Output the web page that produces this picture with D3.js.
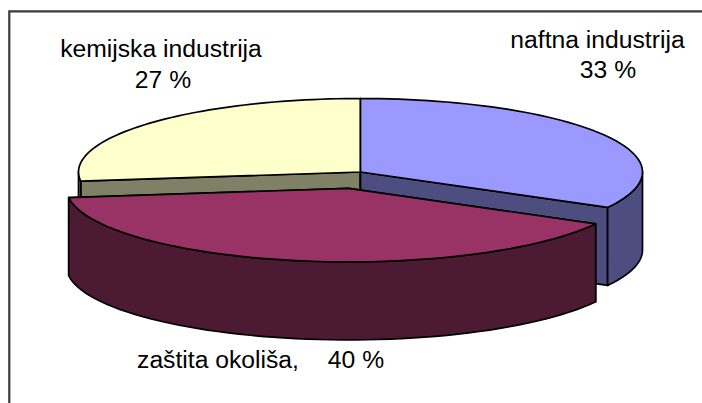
<!DOCTYPE html>
<html><head><meta charset="utf-8">
<script src="https://cdn.jsdelivr.net/npm/d3@7/dist/d3.min.js"></script>
<style>html,body{margin:0;padding:0;background:#fff}svg{display:block}text{font-family:"Liberation Sans",Arial,sans-serif;font-size:24.7px;fill:#000}</style>
</head><body><svg id="c" width="702" height="403"></svg>
<script>
const categories = ["naftna industrija", "zaštita okoliša", "kemijska industrija"];
const values = [33, 40, 27];
const topColors = ["#9999FF", "#993366", "#FFFFCC"];
const sideColors = ["#4D4D80", "#4D1A33", "#808066"];
const exploded = [false, true, false];

const cx = 360.5, cy = 172, rx = 282, ry = 73.5, depth = 78, explode = 0.227;
const svg = d3.select("#c");
svg.append("path").attr("d", "M9.3 403V11.3H702").attr("fill", "none").attr("stroke", "#3a3a3a").attr("stroke-width", 2.2);

const xUnit = d3.scaleLinear().domain([-1, 1]).range([-rx, rx]);
const yUnit = d3.scaleLinear().domain([-1, 1]).range([-ry, ry]);
const arcs = d3.pie().sort(null).value(d => d)(values).map((a, i) => {
  const mid = (a.startAngle + a.endAngle) / 2, e = exploded[i] ? explode : 0;
  return {...a, i, ox: cx + xUnit(Math.sin(mid) * e), oy: cy + yUnit(-Math.cos(mid) * e)};
});
const pt = (a, t, dy = 0) => [a.ox + xUnit(Math.sin(t)), a.oy + yUnit(-Math.cos(t)) + dy];
const samples = (a, t0, t1, dy) => d3.range(61).map(k => pt(a, t0 + (t1 - t0) * k / 60, dy));
const line = d3.line();
const draw = (pts, fill) => svg.append("path").attr("d", line(pts) + "Z").attr("fill", fill)
  .attr("stroke", "#000").attr("stroke-width", 1.7).attr("stroke-linejoin", "round");

function sideFaces(a) {
  const c = sideColors[a.i];
  const apex = [a.ox, a.oy], apexB = [a.ox, a.oy + depth];
  [a.startAngle, a.endAngle].forEach(t => {
    if (Math.cos(t) > -0.999) draw([apex, pt(a, t), pt(a, t, depth), apexB], c);
  });
  const lo = Math.max(a.startAngle, Math.PI / 2), hi = Math.min(a.endAngle, Math.PI * 1.5);
  if (hi > lo) draw([...samples(a, lo, hi, 0), ...samples(a, hi, lo, depth)], c);
}
const topFace = a => draw([[a.ox, a.oy], ...samples(a, a.startAngle, a.endAngle, 0)], topColors[a.i]);

[arcs[2], arcs[0]].forEach(sideFaces);
[arcs[2], arcs[0]].forEach(topFace);
sideFaces(arcs[1]);
topFace(arcs[1]);

const labelLines = [
  [[categories[0], 597.5, 48], [values[0] + " %", 608, 78]],
  [[categories[1] + ",", 218, 368], [values[1] + " %", 356, 368]],
  [[categories[2], 161, 57], [values[2] + " %", 163, 88]]
];
labelLines.flat().forEach(([s, x, y]) => svg.append("text").attr("x", x).attr("y", y).attr("text-anchor", "middle").text(s));
</script></body></html>
